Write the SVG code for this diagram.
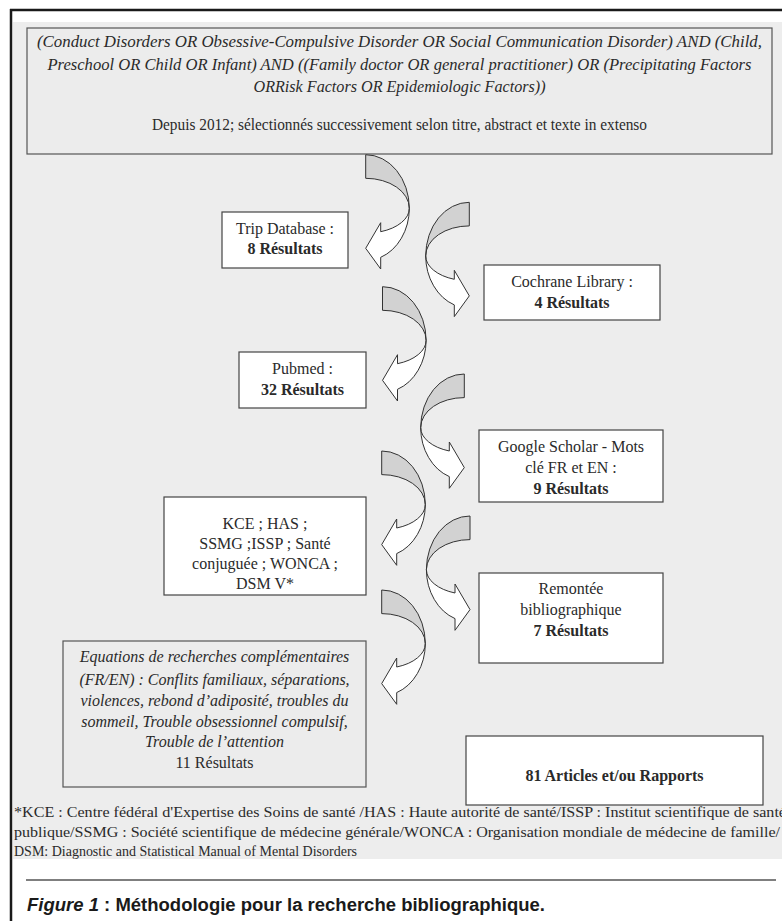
<svg xmlns="http://www.w3.org/2000/svg" xmlns:xlink="http://www.w3.org/1999/xlink" width="782" height="921" viewBox="0 0 782 921">
<style>
.box{fill:#ffffff;stroke:#444;stroke-width:1.2}
.gbox{fill:#ececec;stroke:#555;stroke-width:1.2}
.t{font-family:"Liberation Serif","Times New Roman",serif;font-size:16px;fill:#2a2a2a;text-anchor:middle}
.i{font-style:italic}
.b{font-weight:bold}
.fn{font-family:"Liberation Serif","Times New Roman",serif;font-size:15px;fill:#2a2a2a}
.cap{font-family:"Liberation Sans",Arial,sans-serif;font-size:18px;font-weight:bold;fill:#1a1a1a}
.ag{fill:#d2d2d2;stroke:#333;stroke-width:1}
.aw{fill:#ffffff;stroke:#333;stroke-width:1}
</style>
<defs>
<g id="arrowL">
<path class="ag" d="M0,0 A43.6,53.6 0 0 1 43.6,53.6 A43.6,30 0 0 0 0,23.6 Z"/>
<path class="aw" d="M43.6,53.6 A43.6,52.4 0 0 1 15,102.6 L15,114.3 L0,93.6 L15,68 L15,77 A43.6,24.9 0 0 0 43.6,53.6 Z"/>
</g>
</defs>
<rect x="0" y="0" width="782" height="921" fill="#ffffff"/>
<rect x="13" y="22" width="769" height="837" fill="#ededed"/>
<line x1="10" y1="10" x2="782" y2="10" stroke="#1a1a1a" stroke-width="2.5"/>
<line x1="11" y1="9" x2="11" y2="921" stroke="#1a1a1a" stroke-width="2.5"/>

<g id="query">
<rect class="gbox" x="27" y="28" width="745" height="126"/>
<text class="t i" x="399.5" y="47" textLength="725" lengthAdjust="spacingAndGlyphs">(Conduct Disorders OR Obsessive-Compulsive Disorder OR Social Communication Disorder) AND (Child,</text>
<text class="t i" x="399.5" y="69.5" textLength="704" lengthAdjust="spacingAndGlyphs">Preschool OR Child OR Infant) AND ((Family doctor OR general practitioner) OR (Precipitating Factors</text>
<text class="t i" x="399.5" y="92" textLength="292" lengthAdjust="spacingAndGlyphs">ORRisk Factors OR Epidemiologic Factors))</text>
<text class="t" x="399.5" y="129.5" textLength="495" lengthAdjust="spacingAndGlyphs">Depuis 2012; sélectionnés successivement selon titre, abstract et texte in extenso</text>
</g>

<g id="trip">
<rect class="box" x="222" y="212" width="126" height="56"/>
<text class="t" x="285" y="233.5">Trip Database :</text>
<text class="t b" x="285" y="254">8 Résultats</text>
</g>

<g id="cochrane">
<rect class="box" x="484" y="265" width="176" height="55"/>
<text class="t" x="572" y="287">Cochrane Library :</text>
<text class="t b" x="572" y="308">4 Résultats</text>
</g>

<g id="pubmed">
<rect class="box" x="239" y="352" width="127" height="56"/>
<text class="t" x="302.5" y="373.5">Pubmed :</text>
<text class="t b" x="302.5" y="394.5">32 Résultats</text>
</g>

<g id="google">
<rect class="box" x="479" y="430" width="184" height="72"/>
<text class="t" x="571" y="451.5">Google Scholar - Mots</text>
<text class="t" x="571" y="472.5">clé FR et EN :</text>
<text class="t b" x="571" y="493.5">9 Résultats</text>
</g>

<g id="kce">
<rect class="box" x="164" y="497" width="202" height="98"/>
<text class="t" x="265" y="528.5">KCE ; HAS ;</text>
<text class="t" x="265" y="548.5">SSMG ;ISSP ; Santé</text>
<text class="t" x="265" y="568.5">conjuguée ; WONCA ;</text>
<text class="t" x="265" y="588.5">DSM V*</text>
</g>

<g id="remontee">
<rect class="box" x="479" y="573" width="184" height="90"/>
<text class="t" x="571" y="593.5">Remontée</text>
<text class="t" x="571" y="614.5">bibliographique</text>
<text class="t b" x="571" y="636">7 Résultats</text>
</g>

<g id="equations">
<rect class="gbox" x="63" y="641" width="303" height="146"/>
<text class="t i" x="214.5" y="662">Equations de recherches complémentaires</text>
<text class="t i" x="214.5" y="685">(FR/EN) : Conflits familiaux, séparations,</text>
<text class="t i" x="214.5" y="706">violences, rebond d’adiposité, troubles du</text>
<text class="t i" x="214.5" y="726.5">sommeil, Trouble obsessionnel compulsif,</text>
<text class="t i" x="214.5" y="747">Trouble de l’attention</text>
<text class="t" x="214.5" y="768">11 Résultats</text>
</g>

<g id="total">
<rect class="box" x="466" y="736" width="297" height="69"/>
<text class="t b" x="614.5" y="781">81 Articles et/ou Rapports</text>
</g>

<g id="connectors">
<use xlink:href="#arrowL" transform="translate(365.7,154.7)"/>
<use xlink:href="#arrowL" transform="translate(469.3,202.3) scale(-1,1)"/>
<use xlink:href="#arrowL" transform="translate(382.5,286.7)"/>
<use xlink:href="#arrowL" transform="translate(464.3,374) scale(-1,1)"/>
<use xlink:href="#arrowL" transform="translate(381.7,451)"/>
<use xlink:href="#arrowL" transform="translate(470,516) scale(-1,1)"/>
<use xlink:href="#arrowL" transform="translate(381.7,590)"/>
</g>

<g id="footnote">
<text class="fn" x="14" y="817" textLength="772" lengthAdjust="spacingAndGlyphs">*KCE : Centre fédéral d'Expertise des Soins de santé /HAS : Haute autorité de santé/ISSP : Institut scientifique de santé</text>
<text class="fn" x="14" y="837" textLength="766" lengthAdjust="spacingAndGlyphs">publique/SSMG : Société scientifique de médecine générale/WONCA : Organisation mondiale de médecine de famille/</text>
<text class="fn" x="14" y="856" textLength="343" lengthAdjust="spacingAndGlyphs">DSM: Diagnostic and Statistical Manual of Mental Disorders</text>
</g>

<line x1="26" y1="880" x2="776" y2="880" stroke="#555" stroke-width="1.3"/>
<g id="caption">
<text class="cap" x="27" y="911" textLength="518" lengthAdjust="spacingAndGlyphs"><tspan font-style="italic">Figure 1</tspan> : Méthodologie pour la recherche bibliographique.</text>
</g>
</svg>
